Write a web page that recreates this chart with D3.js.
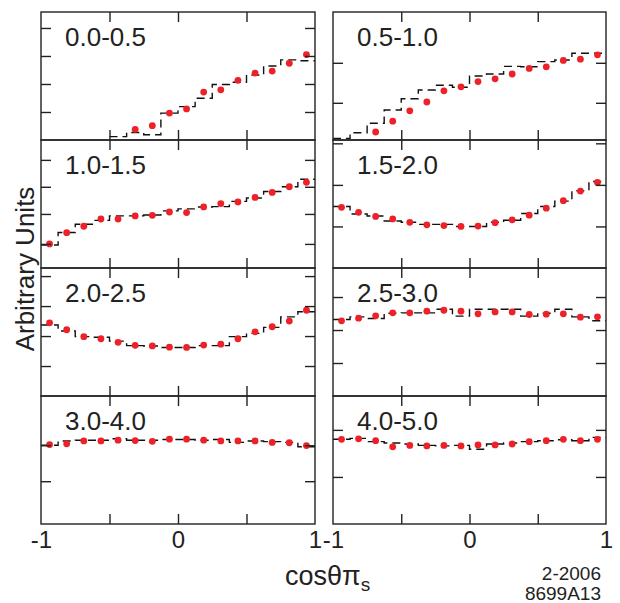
<!DOCTYPE html>
<html>
<head>
<meta charset="utf-8">
<script src="https://cdn.jsdelivr.net/npm/d3@7"></script>
<style>
  body { margin: 0; background: #fff; }
  svg text { font-family: "Liberation Sans", Arial, Helvetica, sans-serif; fill: #222; }
</style>
</head>
<body>
<svg class="chart"></svg>
<script>
// bins in cos(theta_pi_s), 16 bins of width 0.125
var binEdges = [-1, -0.875, -0.75, -0.625, -0.5, -0.375, -0.25, -0.125, 0,
                0.125, 0.25, 0.375, 0.5, 0.625, 0.75, 0.875, 1];
var binCenters = [-0.9375, -0.8125, -0.6875, -0.5625, -0.4375, -0.3125, -0.1875, -0.0625,
                  0.0625, 0.1875, 0.3125, 0.4375, 0.5625, 0.6875, 0.8125, 0.9375];

var panelLabels = ["0.0-0.5", "0.5-1.0", "1.0-1.5", "1.5-2.0",
                   "2.0-2.5", "2.5-3.0", "3.0-4.0", "4.0-5.0"];

// red points (data), arbitrary units
var data00 = [null, null, null, null, null, 0.38, 0.51, 0.96, 1.11, 1.71, 1.79, 2.13, 2.39, 2.46, 2.74, 3.05];
var data05 = [null, null, 0.20, 0.47, 0.73, 0.95, 1.23, 1.33, 1.46, 1.53, 1.65, 1.79, 1.83, 1.99, 2.02, 2.13];
var data10 = [0.86, 1.26, 1.49, 1.75, 1.75, 1.86, 1.88, 2.00, 1.98, 2.18, 2.30, 2.36, 2.52, 2.70, 2.90, 3.06];
var data15 = [1.46, 1.34, 1.24, 1.18, 1.10, 1.04, 1.02, 1.00, 1.01, 1.09, 1.16, 1.27, 1.44, 1.62, 1.85, 2.06];
var data20 = [2.44, 2.21, 1.98, 1.91, 1.79, 1.69, 1.67, 1.63, 1.62, 1.70, 1.73, 1.91, 2.14, 2.31, 2.50, 2.86];
var data25 = [2.28, 2.36, 2.43, 2.52, 2.52, 2.57, 2.60, 2.57, 2.49, 2.55, 2.55, 2.47, 2.48, 2.49, 2.39, 2.40];
var data30 = [2.21, 2.23, 2.31, 2.31, 2.33, 2.32, 2.30, 2.36, 2.36, 2.33, 2.31, 2.31, 2.31, 2.27, 2.26, 2.18];
var data40 = [1.80, 1.81, 1.77, 1.64, 1.67, 1.66, 1.67, 1.66, 1.68, 1.68, 1.70, 1.75, 1.77, 1.80, 1.77, 1.80];

// dashed histogram (simulation), arbitrary units
var mc00 = [null, null, null, null, 0.12, 0.27, 0.19, 0.96, 1.19, 1.49, 1.98, 2.06, 2.32, 2.64, 2.86, 2.83];
var mc05 = [0.04, 0.18, 0.42, 0.75, 1.03, 1.25, 1.37, 1.32, 1.60, 1.65, 1.84, 1.83, 1.96, 2.00, 2.17, 2.17];
var mc10 = [0.82, 1.27, 1.56, 1.70, 1.86, 1.86, 1.89, 2.04, 2.11, 2.18, 2.19, 2.38, 2.50, 2.73, 2.90, 3.17];
var mc15 = [1.48, 1.30, 1.25, 1.13, 1.10, 1.05, 1.05, 1.00, 1.00, 1.10, 1.15, 1.31, 1.48, 1.61, 1.86, 2.08];
var mc20 = [2.37, 2.17, 1.98, 1.96, 1.83, 1.68, 1.67, 1.62, 1.62, 1.68, 1.68, 1.98, 2.09, 2.29, 2.64, 2.81];
var mc25 = [2.32, 2.40, 2.35, 2.51, 2.52, 2.52, 2.63, 2.42, 2.63, 2.63, 2.63, 2.42, 2.51, 2.63, 2.40, 2.28];
var mc30 = [2.19, 2.31, 2.33, 2.33, 2.37, 2.33, 2.33, 2.35, 2.35, 2.33, 2.35, 2.27, 2.31, 2.29, 2.27, 2.15];
var mc40 = [1.80, 1.82, 1.75, 1.72, 1.70, 1.67, 1.66, 1.67, 1.59, 1.70, 1.72, 1.75, 1.77, 1.79, 1.77, 1.84];

// y range and tick values of each panel
var yMax   = [4.57, 3.20, 4.57, 3.08, 4.27, 3.88, 3.56, 2.72];
var yTicks = [[1, 2, 3, 4], [0.93, 1.93], [0.86, 1.93, 2.90, 3.86], [1, 2, 3],
              [1, 2, 3, 4], [1, 2, 3], [1.19, 2.19], [1, 2]];

var xInnerTicks = [-0.5, 0, 0.5];
var xLabelTicks = [-1, 0, 1];

var dataSets = [data00, data05, data10, data15, data20, data25, data30, data40];
var mcSets   = [mc00, mc05, mc10, mc15, mc20, mc25, mc30, mc40];

var width = 620, height = 603;
var colX = [[41, 315], [333, 606]];
var rowTop = [12, 140, 268, 396];
var rowH = 128;

var svg = d3.select(".chart")
    .attr("width", width)
    .attr("height", height);

panelLabels.forEach(function(label, i) {
    var col = i % 2, row = Math.floor(i / 2);
    var x0 = colX[col][0], x1 = colX[col][1];
    var top = rowTop[row], bottom = top + rowH;

    var x = d3.scaleLinear().domain([-1, 1]).range([x0, x1]);
    var y = d3.scaleLinear().domain([0, yMax[i]]).range([bottom, top]);

    var g = svg.append("g").attr("class", "panel");

    g.append("clipPath").attr("id", "clip" + i)
      .append("rect")
        .attr("x", x0).attr("y", top)
        .attr("width", x1 - x0).attr("height", rowH);

    // histogram as steps
    var steps = [];
    mcSets[i].forEach(function(v, b) {
        steps.push([binEdges[b], v]);
        steps.push([binEdges[b + 1], v]);
    });
    g.append("path")
        .datum(steps)
        .attr("clip-path", "url(#clip" + i + ")")
        .attr("fill", "none")
        .attr("stroke", "#111")
        .attr("stroke-width", 1.4)
        .attr("stroke-dasharray", "8,5")
        .attr("d", d3.line()
            .defined(function(d) { return d[1] !== null; })
            .x(function(d) { return x(d[0]); })
            .y(function(d) { return y(d[1]); }));

    // data points
    g.selectAll(".pt")
        .data(dataSets[i].map(function(v, b) { return [binCenters[b], v]; })
                         .filter(function(d) { return d[1] !== null; }))
      .enter().append("circle")
        .attr("class", "pt")
        .attr("cx", function(d) { return x(d[0]); })
        .attr("cy", function(d) { return y(d[1]); })
        .attr("r", 3.4)
        .attr("fill", "#ec2228");

    // ticks, all pointing inwards
    var axes = [
        [d3.axisLeft(y).tickValues(yTicks[i]), "translate(" + x0 + ",0)"],
        [d3.axisRight(y).tickValues(yTicks[i]), "translate(" + x1 + ",0)"],
        [d3.axisTop(x).tickValues(xInnerTicks), "translate(0," + top + ")"],
        [d3.axisBottom(x).tickValues(xInnerTicks), "translate(0," + bottom + ")"]
    ];
    axes.forEach(function(a) {
        var ax = g.append("g")
            .attr("transform", a[1])
            .call(a[0].tickSize(-10).tickFormat(""));
        ax.select(".domain").remove();
        ax.selectAll("line").attr("stroke", "#222").attr("stroke-width", 1.4);
    });

    g.append("rect")
        .attr("x", x0).attr("y", top)
        .attr("width", x1 - x0).attr("height", rowH)
        .attr("fill", "none")
        .attr("stroke", "#222")
        .attr("stroke-width", 1.4);

    g.append("text")
        .attr("x", x0 + 24)
        .attr("y", top + 34)
        .style("font-size", "26px")
        .text(label);

    if (row === 3) {
        var lab = g.append("g")
            .attr("transform", "translate(0," + bottom + ")")
            .call(d3.axisBottom(x).tickValues(xLabelTicks).tickSize(0).tickPadding(7)
                .tickFormat(d3.format("d")));
        lab.select(".domain").remove();
        lab.selectAll("text")
            .style("font-size", "24px")
            .style("font-family", "'Liberation Sans', Arial, Helvetica, sans-serif")
            .attr("fill", "#222")
            .text(function(d) { return d < 0 ? "-" + Math.abs(d) : d; });
    }
});

// axis titles
svg.append("text")
    .attr("transform", "translate(34,269) rotate(-90)")
    .attr("text-anchor", "middle")
    .style("font-size", "26px")
    .text("Arbitrary Units");

var xt = svg.append("text")
    .attr("x", 285)
    .attr("y", 585)
    .style("font-size", "27px");
xt.append("tspan").text("cos\u03b8\u03c0");
xt.append("tspan").attr("dy", 6).style("font-size", "19px").text("s");

svg.append("text")
    .attr("x", 601).attr("y", 580)
    .attr("text-anchor", "end")
    .style("font-size", "19px")
    .text("2-2006");

svg.append("text")
    .attr("x", 601).attr("y", 600)
    .attr("text-anchor", "end")
    .style("font-size", "19px")
    .text("8699A13");
</script>
</body>
</html>
